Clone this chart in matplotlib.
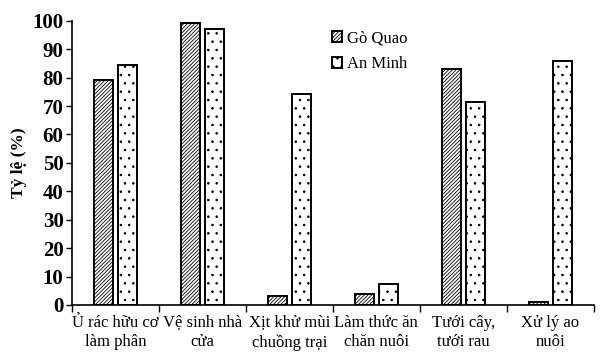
import numpy as np
from matplotlib import pyplot as plt

categories = ['Ủ rác hữu cơ\nlàm phân', 'Vệ sinh nhà\ncửa', 'Xịt khử mùi\nchuồng trại',
              'Làm thức ăn\nchăn nuôi', 'Tưới cây,\ntưới rau', 'Xử lý ao\nnuôi']
go_quao = [79.1, 99.2, 3.0, 3.9, 82.9, 1.2]
an_minh = [84.4, 97.3, 74.3, 7.4, 71.6, 85.7]
yticks = list(range(0, 101, 10))

plt.rcParams['font.family'] = ['Liberation Serif', 'DejaVu Serif']
plt.rcParams['hatch.linewidth'] = 0.6

fig = plt.figure(figsize=(6.04, 3.6), dpi=100)
ax = fig.add_axes([0.119, 0.153, 0.864, 0.789])

x = np.arange(len(categories))
w = 0.22
ax.bar(x - 0.14, go_quao, w, facecolor='white', edgecolor='black', linewidth=1.4,
       hatch='/////////', label='Gò Quao')
ax.bar(x + 0.14, an_minh, w, facecolor='white', edgecolor='black', linewidth=1.4,
       hatch='..', label='An Minh')

ax.set_xlim(-0.5, len(categories) - 0.5)
ax.set_ylim(0, 100)
ax.set_yticks(yticks)
ax.set_yticklabels([str(v) for v in yticks], fontsize=15, fontweight='bold')
ax.set_ylabel('Tỷ lệ (%)', fontsize=12.5, fontweight='bold', labelpad=4)

ax.set_xticks(np.arange(len(categories) + 1) - 0.5)
ax.set_xticklabels([])
ax.set_xticks(x, minor=True)
ax.set_xticklabels(categories, minor=True, fontsize=12, linespacing=1.3)
ax.tick_params(axis='x', which='minor', length=0, pad=7)
ax.tick_params(axis='x', which='major', length=5, width=1, direction='out')
ax.tick_params(axis='y', length=4, width=1, direction='out', pad=2)

for s in ['top', 'right']:
    ax.spines[s].set_visible(False)
ax.spines['left'].set_linewidth(1.2)
ax.spines['bottom'].set_linewidth(1.2)

ax.legend(loc='upper left', bbox_to_anchor=(0.47, 1.02), frameon=False, fontsize=12,
          handlelength=0.6, handleheight=0.6, handletextpad=0.3, labelspacing=0.6)

fig.savefig('out.png', dpi=100)
